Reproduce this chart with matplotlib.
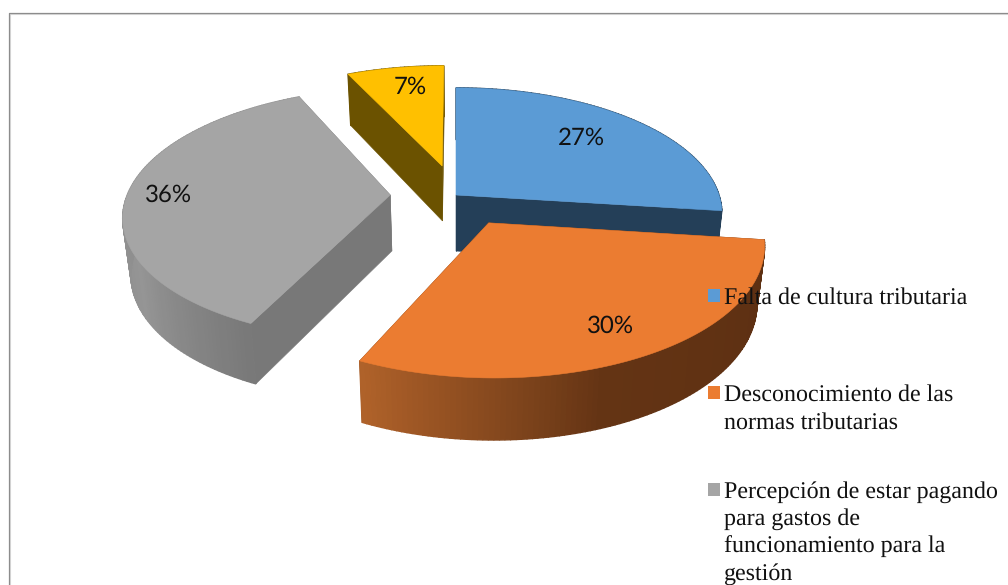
import numpy as np
import matplotlib
matplotlib.use("Agg")
import matplotlib.pyplot as plt
from matplotlib.patches import Polygon, Rectangle
from matplotlib.colors import to_rgb

plt.rcParams["text.hinting"] = "none"
plt.rcParams["text.hinting_factor"] = 1

# ---- data ----
categories = ["Falta de cultura tributaria",
              "Desconocimiento de las\nnormas tributarias",
              "Percepción de estar pagando\npara gastos de\nfuncionamiento para la\ngestión",
              "Otros"]
values = [27, 30, 36, 7]
labels = ["27%", "30%", "36%", "7%"]
explode = [0.0, 0.25, 0.25, 0.25]
colors = ["#5B9BD5", "#EB7C31", "#A5A5A5", "#FFC000"]
face_colors = ["#243F58", "#5E3012", "#787878", "#6B5200"]
wall_stops = [[(0, "#243F58"), (100, "#243F58")],
              [(97, "#5C2F12"), (160, "#643414"), (205, "#B0622A")],
              [(205, "#787878"), (240, "#959595"), (280, "#8C8C8C"), (335, "#8C8C8C")],
              [(335, "#6B5200"), (360, "#6B5200")]]
label_pos = [(581, 138), (611, 326), (169, 195), (410, 87)]
legend_y = [304, 401, 498]

# ---- projection style ----
CX, CY, A, B, K = 456, 195, 263, 123, 0.148
DEPTH, SHRINK = 56, 0.975

def project(u, v, bottom=False):
    u, v = np.asarray(u, float), np.asarray(v, float)
    w = 1 + K * v
    x = CX + A * u / w
    y = CY - B * v / w
    if bottom:
        x = CX + (x - CX) * SHRINK
        y = y + DEPTH / (1 + 0.08 * v)
    return x, y

def wall_color(stops, a):
    ang = [s[0] for s in stops]
    rgb = np.array([to_rgb(s[1]) for s in stops])
    return tuple(np.interp(a, ang, rgb[:, i]) for i in range(3))

fig = plt.figure(figsize=(10.08, 5.85), dpi=100)
ax = fig.add_axes([0, 0, 1, 1])
ax.set_xlim(0, 1008)
ax.set_ylim(585, 0)
ax.axis("off")

# chart frame
ax.plot([10.0, 10.0, 1008], [585, 13.7, 13.7], color="#DDDDDD", lw=0.8, zorder=1)
ax.plot([9.2, 9.2, 1008], [585, 13.0, 13.0], color="#8C8C8C", lw=0.9, zorder=1)

edges = np.concatenate([[0], np.cumsum(values)]) * 360 / sum(values)
order = [3, 2, 0, 1]
z = 2
for i in order:
    a0, a1 = edges[i], edges[i + 1]
    mid = np.radians((a0 + a1) / 2)
    ou, ov = explode[i] * np.sin(mid), explode[i] * np.cos(mid)
    t = np.linspace(a0, a1, max(int(a1 - a0) + 1, 3))
    r = np.radians(t)
    u, v = ou + np.sin(r), ov + np.cos(r)
    # cut faces
    for e in (a0, a1):
        er = np.radians(e)
        eu = [ou, ou + np.sin(er)]
        ev = [ov, ov + np.cos(er)]
        x1, y1 = project(eu, ev)
        x2, y2 = project(eu, ev, bottom=True)
        pts = np.column_stack([np.r_[x1, x2[::-1]], np.r_[y1, y2[::-1]]])
        ax.add_patch(Polygon(pts, closed=True, fc=face_colors[i], ec=face_colors[i], lw=0.4, zorder=z))
    # curved wall
    xt, yt = project(u, v)
    xb, yb = project(u, v, bottom=True)
    for j in range(len(t) - 1):
        c = wall_color(wall_stops[i], (t[j] + t[j + 1]) / 2)
        pts = [(xt[j], yt[j]), (xt[j + 1], yt[j + 1]), (xb[j + 1], yb[j + 1]), (xb[j], yb[j])]
        ax.add_patch(Polygon(pts, closed=True, fc=c, ec=c, lw=1.0, zorder=z))
    # top
    ax0, ay0 = project(ou, ov)
    pts = np.column_stack([np.r_[ax0, xt], np.r_[ay0, yt]])
    ax.add_patch(Polygon(pts, closed=True, fc=colors[i], ec=colors[i], lw=0.4, zorder=z))
    z += 1

for (x, y), s in zip(label_pos, labels):
    ax.text(x, y, s, ha="center", va="center", family="Lato", fontsize=17, color="#111111", zorder=10)

for name, col, y in zip(categories[:3], colors[:3], legend_y):
    ax.add_patch(Rectangle((707.5, y - 15), 12.5, 12.5, fc=col, ec="none", zorder=10))
    for n, line in enumerate(name.split("\n")):
        ax.text(724, y + n * 27.3, line, ha="left", va="baseline", family="Liberation Serif",
                fontsize=17.3, color="#111111", zorder=11)

fig.savefig("out.png", dpi=100)
